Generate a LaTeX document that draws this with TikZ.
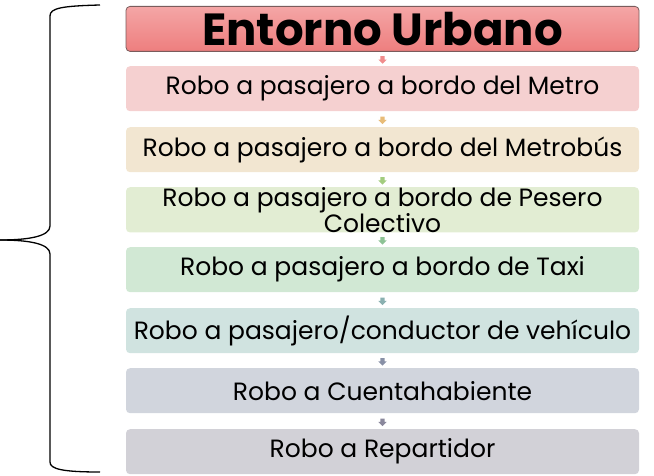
\documentclass[tikz,border=0pt]{standalone}
\usepackage{fontspec}
\setmainfont{Poppins}
\usetikzlibrary{shapes.arrows,calc}
\definecolor{tA}{HTML}{F4A6A6}
\definecolor{tB}{HTML}{EE7E7E}
\definecolor{tEdge}{HTML}{7A5C5C}
\definecolor{cB}{HTML}{F5D0D0}
\definecolor{cC}{HTML}{F2E6D1}
\definecolor{cD}{HTML}{E2EDD3}
\definecolor{cE}{HTML}{D1E8D4}
\definecolor{cF}{HTML}{D0E3E0}
\definecolor{cG}{HTML}{D1D5DD}
\definecolor{cH}{HTML}{D2D1D7}
\definecolor{aB}{HTML}{F08C8C}
\definecolor{aC}{HTML}{E8BC78}
\definecolor{aD}{HTML}{A2CC7E}
\definecolor{aE}{HTML}{8CC294}
\definecolor{aF}{HTML}{8AB0B0}
\definecolor{aG}{HTML}{8890A6}
\definecolor{aH}{HTML}{8A889C}
\begin{document}
\begin{tikzpicture}[x=1pt,y=-1pt,
  itembox/.style={rounded corners=4pt, minimum width=513pt, minimum height=45pt,
    inner sep=0pt, anchor=north, align=center, text=black,
    font=\fontsize{25}{26}\selectfont},
  titlebox/.style={itembox, draw=tEdge, line width=0.8pt, top color=tA, bottom color=tB,
    font=\fontsize{45}{46}\selectfont\bfseries},
  flowarrow/.style={single arrow, shape border rotate=270, inner sep=2pt,
    minimum height=7.5pt, single arrow head extend=2pt, draw=none},
  bracepath/.style={line width=1.3pt, black}
]
\useasboundingbox (0,0) rectangle (654,476);
\node[titlebox] (t) at (382.5,6) {Entorno Urbano};
\node[itembox, fill=cB] (b1) at (382.5,66) {Robo a pasajero a bordo del Metro};
\node[itembox, fill=cC] (b2) at (382.5,127) {Robo a pasajero a bordo del Metrobús};
\node[itembox, fill=cD] (b3) at (382.5,187) {Robo a pasajero a bordo de Pesero\\Colectivo};
\node[itembox, fill=cE] (b4) at (382.5,247) {Robo a pasajero a bordo de Taxi};
\node[itembox, fill=cF] (b5) at (382.5,308) {Robo a pasajero/conductor de vehículo};
\node[itembox, fill=cG] (b6) at (382.5,368) {Robo a Cuentahabiente};
\node[itembox, fill=cH] (b7) at (382.5,429) {Robo a Repartidor};
\node[flowarrow, fill=aB] (a1) at ($(t.south)!0.5!(b1.north)$) {};
\node[flowarrow, fill=aC] (a2) at ($(b1.south)!0.5!(b2.north)$) {};
\node[flowarrow, fill=aD] (a3) at ($(b2.south)!0.5!(b3.north)$) {};
\node[flowarrow, fill=aE] (a4) at ($(b3.south)!0.5!(b4.north)$) {};
\node[flowarrow, fill=aF] (a5) at ($(b4.south)!0.5!(b5.north)$) {};
\node[flowarrow, fill=aG] (a6) at ($(b5.south)!0.5!(b6.north)$) {};
\node[flowarrow, fill=aH] (a7) at ($(b6.south)!0.5!(b7.north)$) {};
\coordinate (btop) at (100,5);
\coordinate (btip) at (0,240);
\coordinate (bbot) at (100,472);
\draw[bracepath] (btop) .. controls (62,6) and (50,8) .. (50,16) -- (50,226)
  .. controls (50,236) and (30,240) .. (btip);
\draw[bracepath] (btip) .. controls (30,240) and (50,244) .. (50,254) -- (50,462)
  .. controls (50,469) and (62,472) .. (bbot);
\end{tikzpicture}
\end{document}
